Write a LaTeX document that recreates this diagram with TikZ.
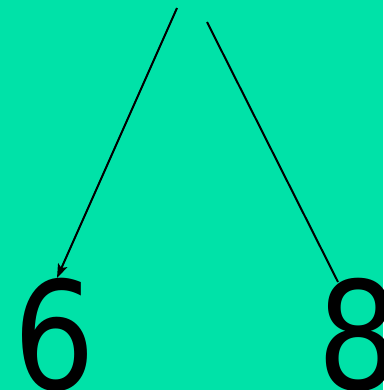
\documentclass[tikz,border=0pt]{standalone}
\usepackage{fontspec}
\setmainfont{DejaVu Sans}
\usetikzlibrary{arrows.meta}
\definecolor{bg}{RGB}{0,226,168}
\tikzset{
  digit/.style={inner sep=0pt, anchor=base west, xscale=0.86, font=\fontsize{150}{150}\selectfont},
  link/.style={draw=black, line width=2pt},
}
\begin{document}
\begin{tikzpicture}[x=1pt,y=-1pt]
\fill[bg] (0,0) rectangle (383,390);
\useasboundingbox (0,0) rectangle (383,390);
\node[digit] (six) at (13,389) {6};
\node[digit] (eight) at (317,389) {8};
\coordinate (a1) at (177,8);
\coordinate (a2) at (57,278);
\coordinate (b1) at (207,22);
\coordinate (b2) at (338,282);
\draw[link, -{Stealth[length=14pt,width=10pt,inset=3pt]}] (a1) -- (a2);
\draw[link] (b1) -- (b2);
\end{tikzpicture}
\end{document}
